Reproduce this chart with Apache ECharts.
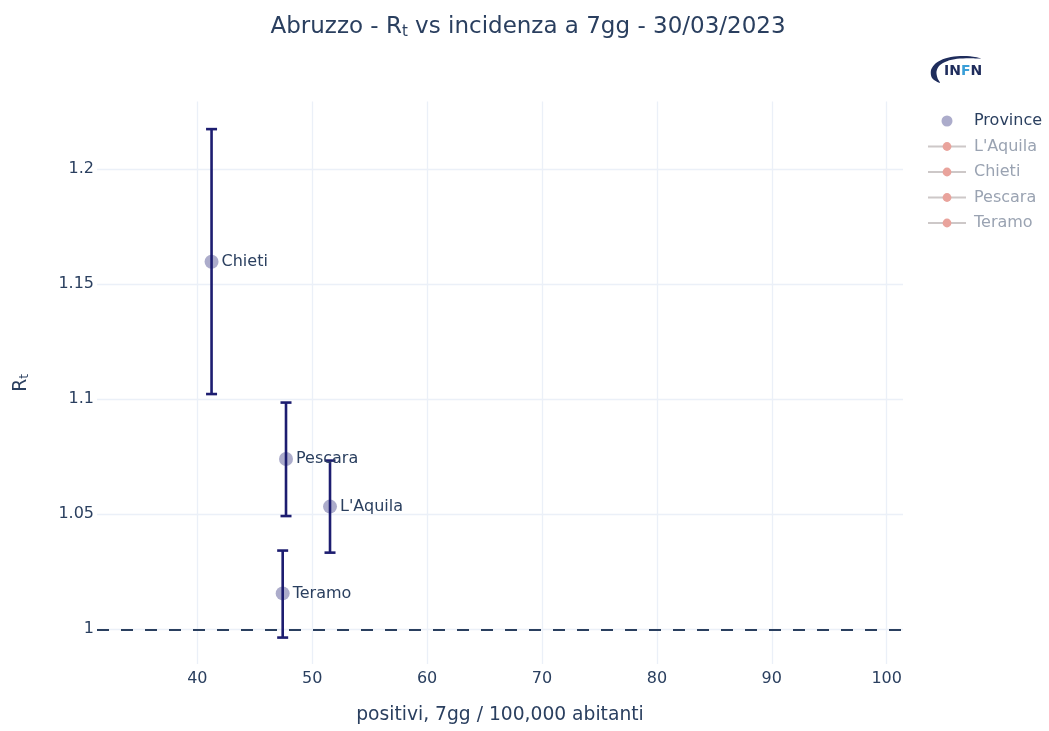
<!DOCTYPE html>
<html>
<head>
<meta charset="utf-8">
<script src="https://cdn.jsdelivr.net/npm/echarts@6/dist/echarts.min.js"></script>
<style>
html,body{margin:0;padding:0;background:#fff;}
#chart{width:1049px;height:731px;}
</style>
</head>
<body>
<div id="chart"></div>
<script>
// Data
var provinces = ["L'Aquila", "Chieti", "Pescara", "Teramo"];
var incidence = [51.55, 41.24, 47.72, 47.43];
var rt = [1.0533, 1.1597, 1.0740, 1.0156];
var rtLow = [1.0333, 1.1022, 1.0492, 0.9964];
var rtHigh = [1.0733, 1.2173, 1.0985, 1.0342];
var xTicks = [40, 50, 60, 70, 80, 90, 100];
var yTicks = [1, 1.05, 1.1, 1.15, 1.2];
var legendNames = ["Province", "L'Aquila", "Chieti", "Pescara", "Teramo"];

var FONT = "DejaVu Sans";
var TXT = "#2a3f5f";
var GRID = "#ebf0f8";
var MARKER = "rgba(25,25,112,0.45)";

var scatterData = provinces.map(function (p, i) { return [incidence[i], rt[i], p]; });
var errData = provinces.map(function (p, i) { return [incidence[i], rtLow[i], rtHigh[i]]; });

var chart = echarts.init(document.getElementById('chart'), null, {renderer: 'canvas'});

var dummySeries = legendNames.slice(1).map(function (n) {
  return {
    name: n, type: 'line', data: [],
    symbol: 'circle', symbolSize: 6,
    itemStyle: {color: '#e9a39c'},
    lineStyle: {color: '#cdc8c8', width: 3}
  };
});

var option = {
  backgroundColor: '#ffffff',
  animation: false,
  title: {
    text: '{a|Abruzzo - R}{b|t}{a| vs incidenza a 7gg - 30/03/2023}',
    left: 523, top: 8, textAlign: 'center',
    textStyle: {
      fontWeight: 'normal',
      rich: {
        a: {fontFamily: FONT, fontSize: 23, fontWeight: 'normal', color: TXT, lineHeight: 28},
        b: {fontFamily: FONT, fontSize: 15, fontWeight: 'normal', color: TXT, lineHeight: 28, padding: [10, 0, 0, 0]}
      }
    }
  },
  legend: {
    orient: 'vertical', left: 927, top: 113, padding: 0,
    itemWidth: 38, itemHeight: 11, itemGap: 9.5,
    textStyle: {fontFamily: FONT, fontSize: 16, lineHeight: 16, color: TXT, padding: [0, 0, 0, 3]},
    data: legendNames.map(function (n, i) {
      if (i === 0) return {name: n, icon: 'circle', itemStyle: {color: MARKER}, textStyle: {color: TXT}};
      return {name: n, textStyle: {color: '#9aa3b2'}};
    })
  },
  grid: {left: 97, right: 146, top: 101.5, bottom: 67, containLabel: false},
  xAxis: {
    type: 'value', min: 31.27, max: 101.42,
    name: 'positivi, 7gg / 100,000 abitanti', nameLocation: 'middle', nameGap: 42,
    nameTextStyle: {fontFamily: FONT, fontSize: 18.7, color: TXT},
    axisLine: {show: false}, axisTick: {show: false, customValues: xTicks},
    axisLabel: {customValues: xTicks, fontFamily: FONT, fontSize: 16, color: TXT, margin: 7},
    splitLine: {show: true, lineStyle: {color: GRID, width: 1.3}}
  },
  yAxis: {
    type: 'value', min: 0.98492, max: 1.2293,
    name: '{a|R}{b|t}', nameLocation: 'middle', nameGap: 64, nameRotate: 90,
    nameTextStyle: {
      rich: {
        a: {fontFamily: FONT, fontSize: 18.7, color: TXT, lineHeight: 24},
        b: {fontFamily: FONT, fontSize: 12.5, color: TXT, lineHeight: 24, padding: [8, 0, 0, 0]}
      }
    },
    axisLine: {show: false}, axisTick: {show: false, customValues: yTicks},
    axisLabel: {customValues: yTicks, fontFamily: FONT, fontSize: 16, color: TXT, margin: 3},
    splitLine: {show: true, lineStyle: {color: GRID, width: 1.3}}
  },
  graphic: [
    {
      type: 'polygon', z: 10,
      shape: {
        smooth: 0.3,
        points: [[940, 83], [932, 78], [931, 70], [936, 63], [945, 58.5], [957, 56.3], [970, 56.3], [981, 58.5],
                 [969, 58.2], [957, 58.8], [947, 61.2], [939.5, 65.5], [936.5, 71.5], [937.5, 78]]
      },
      style: {fill: '#1f2d5c'}
    },
    {
      type: 'text', left: 944, top: 64.5, z: 10,
      style: {
        text: '{d|IN}{f|F}{d|N}',
        rich: {
          d: {fontFamily: FONT, fontSize: 14, fontWeight: 'bold', fill: '#1f2d5c'},
          f: {fontFamily: FONT, fontSize: 14, fontWeight: 'bold', fill: '#3a9fd8'}
        }
      }
    }
  ],
  series: [
    {
      name: 'errors', type: 'custom', z: 1, silent: true,
      renderItem: function (params, api) {
        var x = api.value(0);
        var lo = api.coord([x, api.value(1)]);
        var hi = api.coord([x, api.value(2)]);
        var w = 5.5;
        var st = {stroke: '#1d1d70', lineWidth: 2.6, fill: null};
        return {
          type: 'group',
          children: [
            {type: 'line', shape: {x1: lo[0], y1: lo[1], x2: hi[0], y2: hi[1]}, style: st},
            {type: 'line', shape: {x1: lo[0] - w, y1: lo[1], x2: lo[0] + w, y2: lo[1]}, style: st},
            {type: 'line', shape: {x1: hi[0] - w, y1: hi[1], x2: hi[0] + w, y2: hi[1]}, style: st}
          ]
        };
      },
      encode: {x: 0, y: [1, 2]},
      data: errData
    },
    {
      name: 'Province', type: 'scatter', z: 3,
      symbol: 'circle', symbolSize: 14,
      itemStyle: {color: MARKER},
      label: {
        show: true, position: 'right', distance: 3, opacity: 1,
        formatter: function (p) { return p.value[2]; },
        fontFamily: FONT, fontSize: 16, color: TXT
      },
      data: scatterData,
      markLine: {
        silent: true, symbol: ['none', 'none'],
        label: {show: false},
        lineStyle: {type: [12, 12], color: '#2a3f5f', width: 2},
        data: [{yAxis: 1}]
      }
    }
  ].concat(dummySeries)
};

chart.setOption(option);
</script>
</body>
</html>
